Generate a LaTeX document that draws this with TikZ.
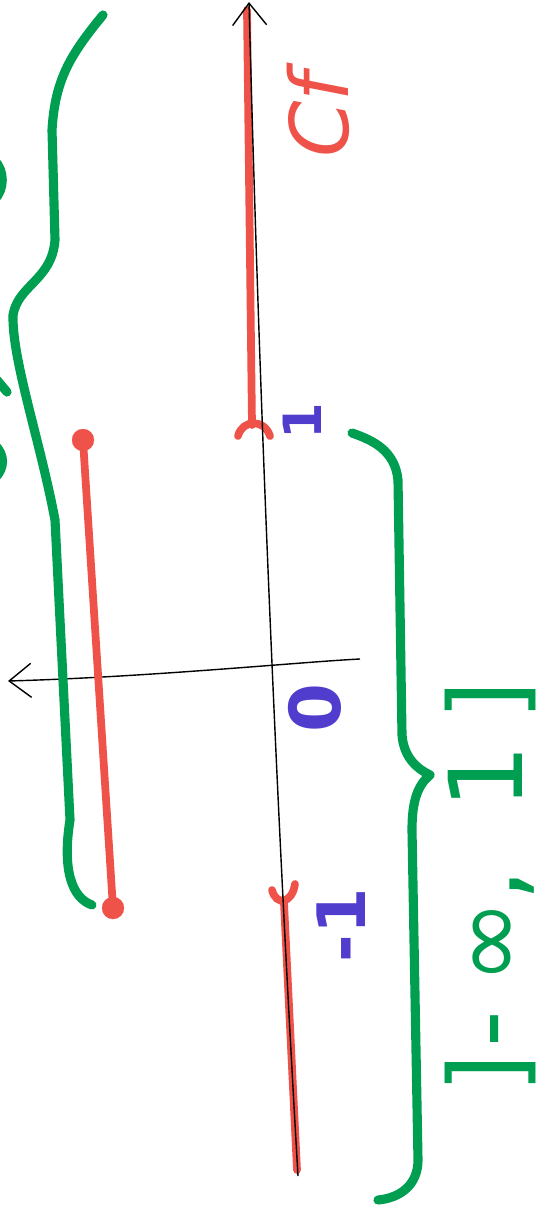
\documentclass[tikz,border=0pt]{standalone}
\usepackage{fontspec}
\setmainfont{DejaVu Sans}
\usetikzlibrary{arrows.meta}
\definecolor{markred}{RGB}{238,82,72}
\definecolor{markgreen}{RGB}{0,158,80}
\definecolor{markblue}{RGB}{80,60,205}
\begin{document}
\begin{tikzpicture}[x=0.05cm,y=-0.05cm,
  axisline/.style={line width=2pt,black,-{Straight Barb[length=1.1cm,width=1.7cm]}},
  redpen/.style={line width=11pt,color=markred,line cap=round},
  greenpen/.style={line width=13pt,color=markgreen,line cap=round,line join=round},
  ticklabel/.style={text=markblue,rotate=90,inner sep=0pt,font=\bfseries\fontsize{#1}{#1}\selectfont},
  enddot/.style={circle,fill=markred,draw=markred,inner sep=0pt,minimum size=1.1cm}]
\useasboundingbox (0,0) rectangle (553,1213);
% the domain on the axis
\draw[redpen] (247,10) -- (252,425);
\draw[redpen] (238,436) .. controls (242,420) and (264,418) .. (270,436);
\draw[redpen] (272,890) .. controls (276,906) and (292,904) .. (295,884);
\draw[redpen] (284,903) -- (297,1170);
% the axes
\coordinate (xs) at (298,1176);
\coordinate (xe) at (249,2);
\coordinate (ys) at (360,659);
\coordinate (ye) at (8,681);
\draw[axisline] (xs) .. controls (282,900) and (262,500) .. (xe);
\draw[axisline] (ys) .. controls (300,662) and (150,677) .. (ye);
% the ticks and their labels
\node[ticklabel=75] (one) at (302,421) {1};
\node[ticklabel=100] (zero) at (315,708) {0};
\node[ticklabel=95] (mone) at (341,925) {-1};
\node[rotate=90,text=markred,inner sep=0pt,font=\itshape\fontsize{115}{115}\selectfont] (cf) at (318,115) {Cf};
% the segment with its closed ends
\node[enddot] (lo) at (83,440) {};
\node[enddot] (hi) at (113,908) {};
\draw[redpen] (lo) -- (hi);
% the braces
\draw[greenpen] (103,15) .. controls (70,55) and (55,80) .. (52,130) -- (55,240)
  .. controls (52,280) and (18,285) .. (13,315) .. controls (12,360) and (40,440) .. (55,520)
  -- (70,820) .. controls (62,870) and (72,898) .. (92,905);
\draw[greenpen] (352,433) .. controls (372,440) and (395,450) .. (398,480) -- (402,735)
  .. controls (404,760) and (420,770) .. (430,775) .. controls (418,785) and (412,800) .. (412,830)
  -- (418,1160) .. controls (418,1185) and (400,1198) .. (378,1200);
\draw[greenpen] (-6,160) .. controls (5,170) and (5,190) .. (-6,200);
\draw[greenpen] (-3,380) -- (7,392);
\draw[greenpen] (-5,445) .. controls (5,455) and (5,468) .. (-5,478);
\node[rotate=90,anchor=west,text=markgreen,inner sep=0pt,font=\fontsize{145}{145}\selectfont] (intv) at (490,1094)
  {]\hspace{0.35cm}-\hspace{1.3cm}∞\hspace{-0.1cm},\hspace{3.0cm}1\hspace{1.2cm}]};
\end{tikzpicture}
\end{document}
